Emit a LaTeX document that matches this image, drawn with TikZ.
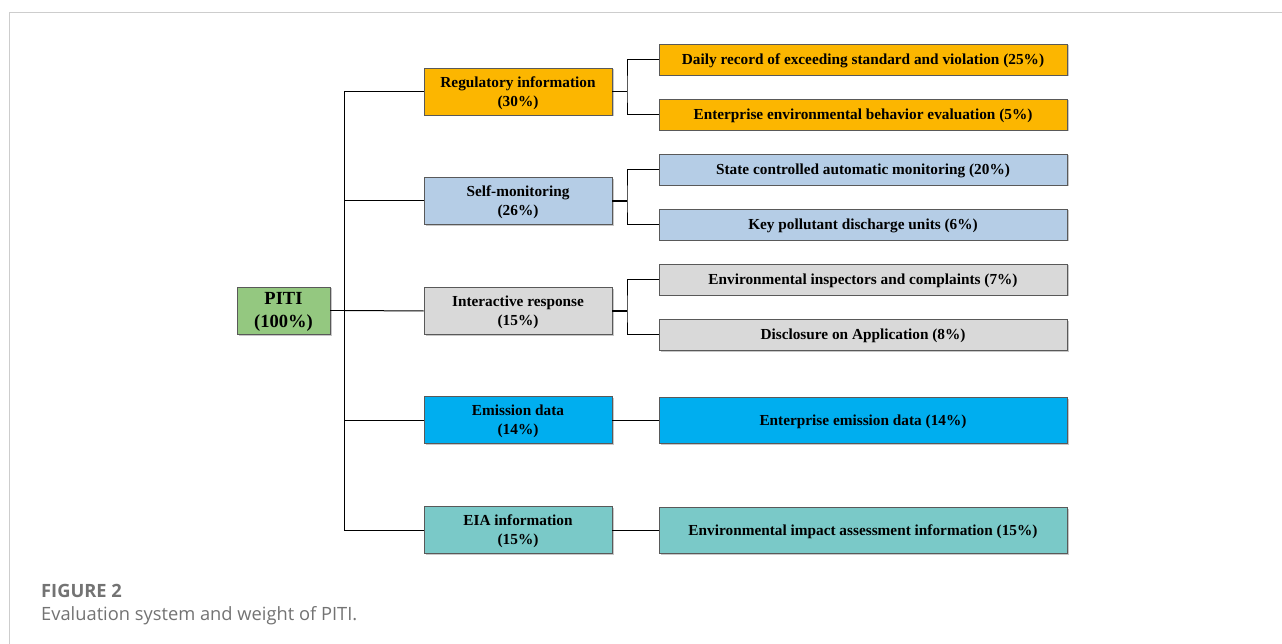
\documentclass[tikz,border=0pt]{standalone}
\usepackage{fontspec}
\setmainfont{Liberation Serif}
\newfontfamily\capfont{Open Sans}
\usetikzlibrary{shadows}
\definecolor{cGreen}{RGB}{148,200,128}
\definecolor{cOrange}{RGB}{252,182,0}
\definecolor{cLBlue}{RGB}{181,205,230}
\definecolor{cGray}{RGB}{217,217,217}
\definecolor{cBlue}{RGB}{0,174,239}
\definecolor{cTeal}{RGB}{122,201,200}
\definecolor{cFrame}{RGB}{205,205,205}
\definecolor{cCap}{RGB}{115,115,115}
\tikzset{
  box/.style={draw=black!65, line width=0.8pt, inner sep=0pt, align=center,
    font=\bfseries\fontsize{15.3}{19}\selectfont,
    drop shadow={shadow xshift=1.5pt, shadow yshift=-1.5pt, fill=black!22, opacity=1}},
  rootbox/.style={box, minimum width=93pt, minimum height=47pt, fill=cGreen,
    font=\bfseries\fontsize{18.5}{23}\selectfont, text depth=0.6pt},
  midbox/.style={box, minimum width=188pt, minimum height=47pt, text depth=0pt},
  leafbox/.style={box, minimum width=408pt, minimum height=31pt, text depth=0pt},
  bigleaf/.style={box, minimum width=408pt, minimum height=46pt, text depth=0pt},
  conn/.style={draw=black, line width=1.0pt},
  stub/.style={draw=black, line width=1.7pt},
}
\begin{document}
\begin{tikzpicture}[x=1pt,y=-1pt]
\useasboundingbox (0,0) rectangle (1282,644);
\fill[white] (0,0) rectangle (1282,644);
\draw[cFrame, line width=1.3pt] (9.5,644) -- (9.5,12.5) -- (1282,12.5);

% root
\node[rootbox] (piti) at (283.5,310.5) {PITI\\(100\%)};

% mid level
\node[midbox, fill=cOrange] (reg) at (518,91.5) {Regulatory information\\(30\%)};
\node[midbox, fill=cLBlue] (self) at (518,201) {Self-monitoring\\(26\%)};
\node[midbox, fill=cGray] (inter) at (518,311) {Interactive response\\(15\%)};
\node[midbox, fill=cBlue] (emis) at (518,420) {Emission data\\(14\%)};
\node[midbox, fill=cTeal] (eia) at (518,530) {EIA information\\(15\%)};

% leaves
\node[leafbox, fill=cOrange] (l1) at (863,59.5) {Daily record of exceeding standard and violation (25\%)};
\node[leafbox, fill=cOrange] (l2) at (863,114.5) {Enterprise environmental behavior evaluation (5\%)};
\node[leafbox, fill=cLBlue] (l3) at (863,169.5) {State controlled automatic monitoring (20\%)};
\node[leafbox, fill=cLBlue] (l4) at (863,224.5) {Key pollutant discharge units (6\%)};
\node[leafbox, fill=cGray] (l5) at (863,279.5) {Environmental inspectors and complaints (7\%)};
\node[leafbox, fill=cGray] (l6) at (863,334.5) {Disclosure on Application (8\%)};
\node[bigleaf, fill=cBlue] (l7) at (863,420) {Enterprise emission data (14\%)};
\node[bigleaf, fill=cTeal] (l8) at (863,530) {Environmental impact assessment information (15\%)};

% trunk
\coordinate (tTop) at (344,91.5);
\coordinate (tBot) at (344,530);
\coordinate (tMid) at (344,310.5);
\draw[stub] (piti.east) -- (tMid);
\draw[conn] (tTop) -- (tBot);
\draw[conn] (tTop) -- (reg.west);
\draw[conn] (344,201) -- (self.west);
\draw[conn] (tMid) -- (inter.west);
\draw[conn] (344,420) -- (emis.west);
\draw[conn] (tBot) -- (eia.west);

% branches
\foreach \m/\a/\b/\y in {reg/l1/l2/91.5, self/l3/l4/201, inter/l5/l6/311}{
  \coordinate (\m-br) at (627,\y);
  \draw[stub] (\m.east) -- (\m-br);
  \draw[conn] (\a.west) -| (\m-br) |- (\b.west);
}
\draw[conn] (emis.east) -- (l7.west);
\draw[conn] (eia.east) -- (l8.west);

% caption
\node[anchor=base west, inner sep=0, text=cCap, font=\capfont\bfseries\fontsize{18.3}{20}\selectfont] (cap1) at (41,597) {FIGURE 2};
\node[anchor=base west, inner sep=0, text=cCap, font=\capfont\fontsize{18.3}{20}\selectfont] (cap2) at (41,620) {Evaluation system and weight of PITI.};
\end{tikzpicture}
\end{document}
